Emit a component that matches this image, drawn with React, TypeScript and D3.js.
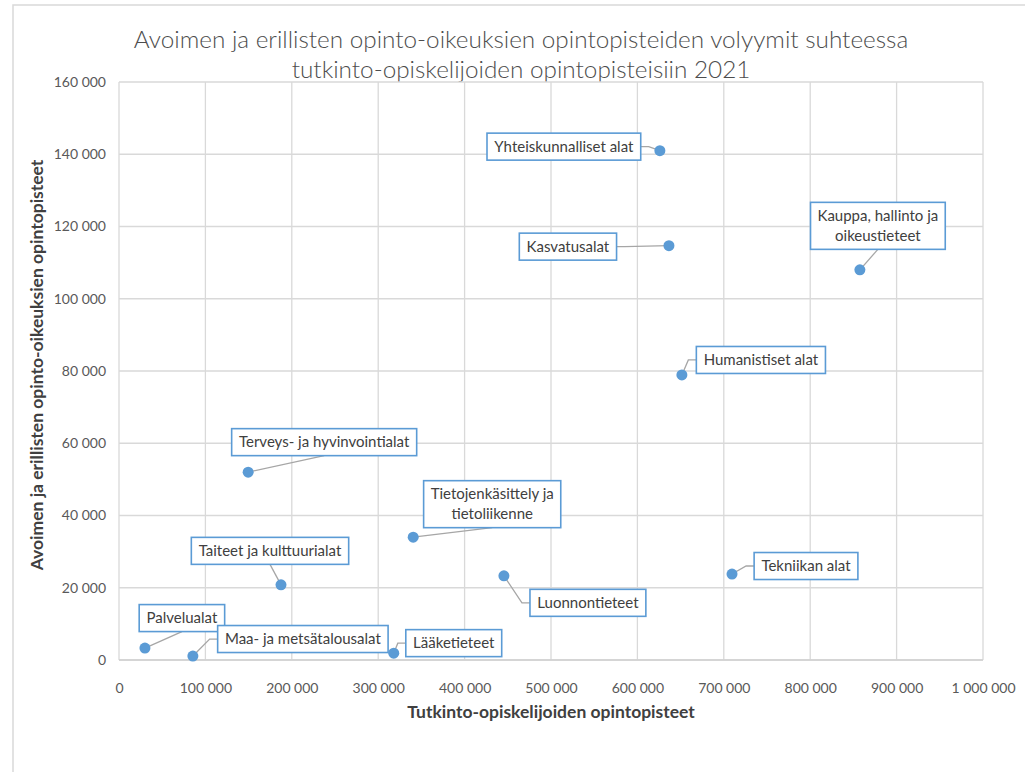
import React, { useEffect, useRef } from "react";
import * as d3 from "d3";

// Field names, study credits of degree students (x) and open/separate study rights (y)
const fields = [
  "Palvelualat",
  "Maa- ja metsätalousalat",
  "Lääketieteet",
  "Yhteiskunnalliset alat",
  "Kasvatusalat",
  "Kauppa, hallinto ja|oikeustieteet",
  "Humanistiset alat",
  "Terveys- ja hyvinvointialat",
  "Tietojenkäsittely ja|tietoliikenne",
  "Taiteet  ja kulttuurialat",
  "Luonnontieteet",
  "Tekniikan alat",
];
const degreeCredits = [30000, 85500, 318000, 626000, 636500, 857500, 651500, 149500, 340500, 187500, 445500, 709500];
const openCredits = [3300, 1100, 1900, 141000, 114700, 108000, 78900, 52000, 34000, 20800, 23300, 23800];

const xTicks = [0, 100000, 200000, 300000, 400000, 500000, 600000, 700000, 800000, 900000, 1000000];
const yTicks = [0, 20000, 40000, 60000, 80000, 100000, 120000, 140000, 160000];

const titleLines = [
  "Avoimen ja erillisten opinto-oikeuksien opintopisteiden volyymit suhteessa",
  "tutkinto-opiskelijoiden opintopisteisiin 2021",
];

// label box centre offset from its point (px) and how the leader line attaches
const labelLayout = [
  { dx: 37, dy: -30, leader: "bottom" },
  { dx: 110, dy: -17, leader: "left" },
  { dx: 60, dy: -10, leader: "left" },
  { dx: -96, dy: -4, leader: "right" },
  { dx: -101, dy: 1, leader: "right" },
  { dx: 18, dy: -44, leader: "bottom" },
  { dx: 79, dy: -15, leader: "left" },
  { dx: 76, dy: -30, leader: "bottom" },
  { dx: 79, dy: -33, leader: "bottom" },
  { dx: -11, dy: -34, leader: "bottom" },
  { dx: 84, dy: 27, leader: "left" },
  { dx: 74, dy: -8, leader: "left" },
];

const FONT = "Lato, 'Noto Sans', sans-serif";
const fmt = d3.formatLocale({ decimal: ",", thousands: " ", grouping: [3], currency: ["", "€"] }).format(",");

export default function App() {
  const svgRef = useRef<SVGSVGElement | null>(null);

  useEffect(() => {
    if (!svgRef.current) return;
    const svg = d3.select(svgRef.current);
    svg.selectAll("*").remove();

    const left = 119, right = 983, top = 82, bottom = 660;
    const x = d3.scaleLinear().domain([0, 1000000]).range([left, right]);
    const y = d3.scaleLinear().domain([0, 160000]).range([bottom, top]);

    svg.append("rect").attr("width", 1025).attr("height", 772).attr("fill", "#fff");
    // outer chart frame
    svg.append("rect")
      .attr("x", 13).attr("y", 5).attr("width", 1030).attr("height", 790)
      .attr("fill", "none").attr("stroke", "#d9d9d9").attr("stroke-width", 1.5);

    // title
    svg.append("g").selectAll("text").data(titleLines).join("text")
      .attr("x", 521).attr("y", (_, i) => 48 + i * 30)
      .attr("text-anchor", "middle")
      .attr("font-family", FONT).attr("font-size", 24.3).attr("font-weight", 300)
      .attr("fill", "#4d4d4d")
      .text((d) => d);

    // gridlines
    const grid = svg.append("g").attr("stroke", "#d9d9d9").attr("stroke-width", 1.3);
    grid.selectAll("line.v").data(xTicks).join("line").attr("class", "v")
      .attr("x1", (d) => x(d)).attr("x2", (d) => x(d)).attr("y1", top).attr("y2", bottom);
    grid.selectAll("line.h").data(yTicks).join("line").attr("class", "h")
      .attr("x1", left).attr("x2", right).attr("y1", (d) => y(d)).attr("y2", (d) => y(d));

    // axes
    const xAxis = svg.append("g").attr("transform", `translate(0,${bottom})`)
      .call(d3.axisBottom(x).tickValues(xTicks).tickSize(0).tickPadding(23).tickFormat((d) => fmt(d as number)));
    const yAxis = svg.append("g").attr("transform", `translate(${left},0)`)
      .call(d3.axisLeft(y).tickValues(yTicks).tickSize(0).tickPadding(13).tickFormat((d) => fmt(d as number)));
    [xAxis, yAxis].forEach((a) => {
      a.select(".domain").remove();
      a.selectAll("text").attr("font-family", FONT).attr("font-size", 14).attr("fill", "#595959");
    });
    svg.append("line").attr("x1", left).attr("x2", right).attr("y1", bottom).attr("y2", bottom)
      .attr("stroke", "#d0d0d0").attr("stroke-width", 1.5);

    // axis titles
    svg.append("text")
      .attr("x", (left + right) / 2).attr("y", 718).attr("text-anchor", "middle")
      .attr("font-family", FONT).attr("font-size", 17.5).attr("font-weight", 700).attr("fill", "#404040")
      .text("Tutkinto-opiskelijoiden opintopisteet");
    svg.append("text")
      .attr("transform", `translate(43,${(top + bottom) / 2 - 6}) rotate(-90)`).attr("text-anchor", "middle")
      .attr("font-family", FONT).attr("font-size", 17.5).attr("font-weight", 700).attr("fill", "#404040")
      .text("Avoimen ja erillisten opinto-oikeuksien opintopisteet");

    const pts = fields.map((name, i) => ({
      name, px: x(degreeCredits[i]), py: y(openCredits[i]), ...labelLayout[i],
    }));

    const leaders = svg.append("g");
    const labels = svg.append("g");

    pts.forEach((p) => {
      const lines = p.name.split("|");
      const cx = p.px + p.dx, cy = p.py + p.dy;
      const lh = 20;
      const g = labels.append("g");
      const rect = g.append("rect").attr("fill", "#fff").attr("stroke", "#5b9bd5").attr("stroke-width", 1.6);
      const t = g.append("text")
        .attr("font-family", FONT).attr("font-size", 15).attr("fill", "#404040").attr("text-anchor", "middle");
      lines.forEach((ln, j) => {
        t.append("tspan").attr("x", cx).attr("y", cy - ((lines.length - 1) * lh) / 2 + j * lh + 5).text(ln);
      });
      const w = (t.node() as SVGTextElement).getBBox().width + 14;
      const h = lines.length === 1 ? 27 : 47;
      const bx = cx - w / 2, by = cy - h / 2;
      rect.attr("x", bx).attr("y", by).attr("width", w).attr("height", h);

      let path = "";
      if (p.leader === "bottom") {
        path = `M${p.px},${p.py}L${cx},${by + h}`;
      } else if (p.leader === "left") {
        const ex = bx - 8;
        path = `M${p.px},${p.py}L${ex},${cy}L${bx},${cy}`;
      } else {
        const ex = bx + w + 8;
        path = `M${p.px},${p.py}L${ex},${cy}L${bx + w},${cy}`;
      }
      leaders.append("path").attr("d", path).attr("fill", "none")
        .attr("stroke", "#a6a6a6").attr("stroke-width", 1.3);
    });

    svg.append("g").selectAll("circle").data(pts).join("circle")
      .attr("cx", (d) => d.px).attr("cy", (d) => d.py).attr("r", 5.5)
      .attr("fill", "#5b9bd5");
  }, []);

  return (
    <div style={{ position: "absolute", left: 0, top: 0 }}>
      <svg ref={svgRef} width={1025} height={772} style={{ display: "block" }} />
    </div>
  );
}
